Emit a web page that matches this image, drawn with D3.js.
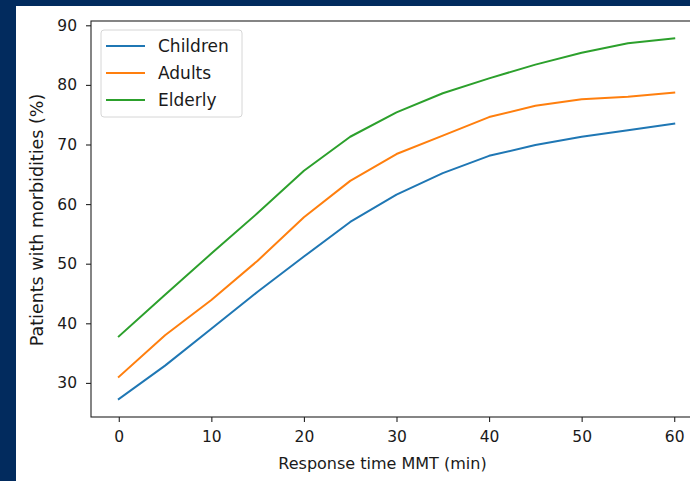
<!DOCTYPE html>
<html>
<head>
<meta charset="utf-8">
<script src="https://cdn.jsdelivr.net/npm/d3@7"></script>
<style>
  body { margin: 0; background: #022b5e; }
  svg { display: block; }
  text { font-family: "DejaVu Sans", sans-serif; }
</style>
</head>
<body>
<script>
// response time (min)
const minutes = [0, 5, 10, 15, 20, 25, 30, 35, 40, 45, 50, 55, 60]
const children = [27.3, 32.9, 39.1, 45.3, 51.2, 57.0, 61.6, 65.2, 68.1, 69.9, 71.3, 72.4, 73.5]
const adults = [31.0, 38.0, 43.9, 50.5, 57.8, 63.9, 68.4, 71.5, 74.6, 76.5, 77.6, 78.0, 78.7]
const elderly = [37.8, 44.8, 51.7, 58.5, 65.6, 71.3, 75.4, 78.6, 81.1, 83.4, 85.4, 87.0, 87.8]
const seriesNames = ['Children', 'Adults', 'Elderly']
const xTicks = [0, 10, 20, 30, 40, 50, 60]
const yTicks = [30, 40, 50, 60, 70, 80, 90]

const series = [children, adults, elderly]
const colors = ['#1f77b4', '#ff7f0e', '#2ca02c']

let svg = d3
  .select('body')
  .append('svg')
  .attr('width', 690)
  .attr('height', 481)

// white figure area
svg
  .append('rect')
  .attr('x', 16)
  .attr('y', 6)
  .attr('width', 690 - 16)
  .attr('height', 481 - 6)
  .attr('fill', '#fff')

let plotLeft = 91, plotTop = 21, plotRight = 702, plotBottom = 417

let x = d3
  .scaleLinear()
  .domain([-3, 63])
  .range([plotLeft, plotRight])

let y = d3
  .scaleLinear()
  .domain([24.28, 90.72])
  .range([plotBottom, plotTop])

let line = d3
  .line()
  .x((d, i) => x(minutes[i]))
  .y((d) => y(d))

svg
  .append('g')
  .selectAll('path')
  .data(series)
  .join('path')
  .attr('d', line)
  .attr('fill', 'none')
  .attr('stroke', (d, i) => colors[i])
  .attr('stroke-width', 2)
  .attr('stroke-linejoin', 'round')
  .attr('stroke-linecap', 'square')

// spines
svg
  .append('rect')
  .attr('x', plotLeft)
  .attr('y', plotTop)
  .attr('width', plotRight - plotLeft)
  .attr('height', plotBottom - plotTop)
  .attr('fill', 'none')
  .attr('stroke', '#222')
  .attr('stroke-width', 1.1)

let xAxis = svg
  .append('g')
  .attr('transform', `translate(0,${plotBottom})`)
  .call(d3.axisBottom(x).tickValues(xTicks).tickSize(5).tickSizeOuter(0).tickPadding(9))

let yAxis = svg
  .append('g')
  .attr('transform', `translate(${plotLeft},0)`)
  .call(d3.axisLeft(y).tickValues(yTicks).tickSize(5).tickSizeOuter(0).tickPadding(9))

for (let ax of [xAxis, yAxis]) {
  ax.select('.domain').remove()
  ax.selectAll('line').attr('stroke', '#222').attr('stroke-width', 1.1)
  ax.selectAll('text')
    .attr('fill', '#1a1a1a')
    .style('font-size', '15.5px')
    .style('font-family', '"DejaVu Sans", sans-serif')
}

svg
  .append('text')
  .attr('x', 382.5)
  .attr('y', 469)
  .attr('text-anchor', 'middle')
  .attr('fill', '#1a1a1a')
  .style('font-size', '16px')
  .text('Response time MMT (min)')

svg
  .append('text')
  .attr('transform', `translate(43,220) rotate(-90)`)
  .attr('text-anchor', 'middle')
  .attr('fill', '#1a1a1a')
  .style('font-size', '17.5px')
  .text('Patients with morbidities (%)')

// legend
let legend = svg
  .append('g')
  .attr('transform', 'translate(101,30)')

legend
  .append('rect')
  .attr('width', 141)
  .attr('height', 87)
  .attr('rx', 3)
  .attr('fill', '#fff')
  .attr('fill-opacity', 0.8)
  .attr('stroke', '#d6d6d6')

let item = legend
  .selectAll('g.item')
  .data(seriesNames)
  .join('g')
  .attr('class', 'item')
  .attr('transform', (d, i) => `translate(0,${16 + i * 27})`)

item
  .append('line')
  .attr('x1', 5)
  .attr('x2', 44)
  .attr('stroke', (d, i) => colors[i])
  .attr('stroke-width', 2)

item
  .append('text')
  .attr('x', 57)
  .attr('dy', '0.35em')
  .attr('fill', '#1a1a1a')
  .style('font-size', '17px')
  .text((d) => d)
</script>
</body>
</html>
